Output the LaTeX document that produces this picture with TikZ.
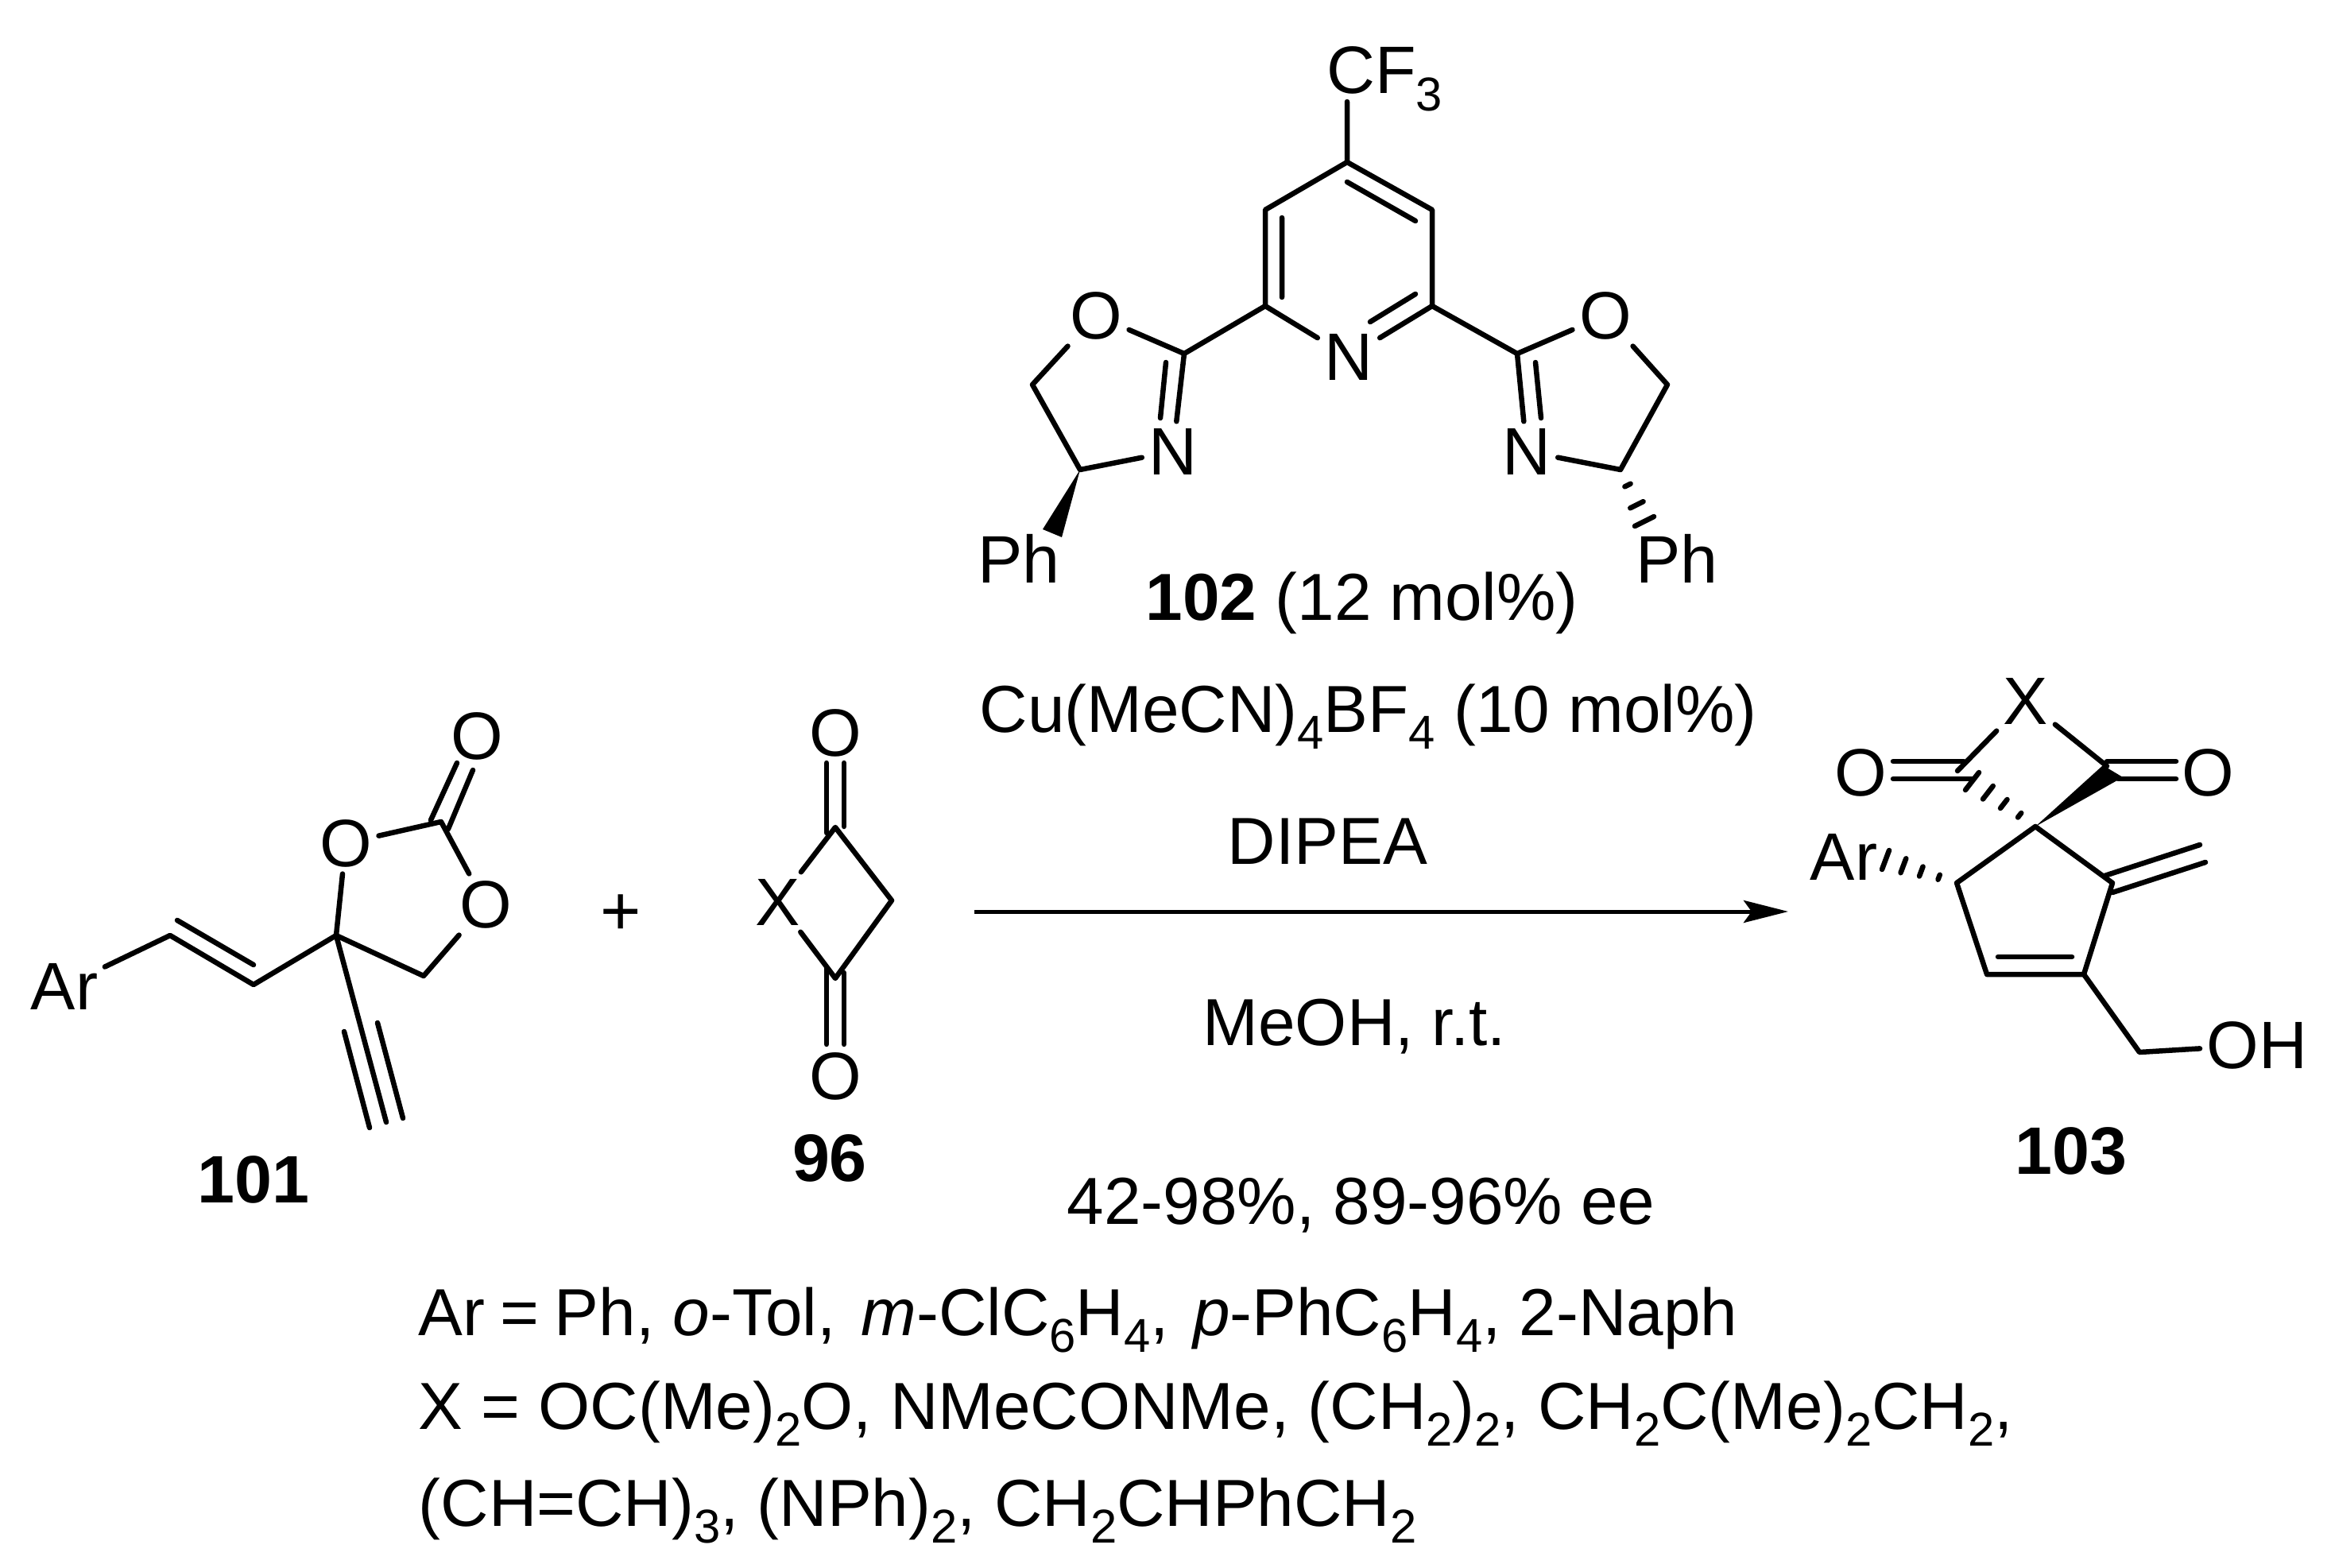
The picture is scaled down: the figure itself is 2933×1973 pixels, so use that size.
\documentclass[tikz,border=0pt]{standalone}
\usepackage{fontspec}
\setmainfont{Liberation Sans}
\usetikzlibrary{arrows.meta,calc}
\newcommand{\sbs}[1]{\raisebox{-0.26em}{\fontsize{17}{17}\selectfont #1}}
\newcommand{\hashbond}[3]{\foreach \t/\n in {#1}{\draw[bond] ($(#2)!\t!(#3a)$) -- ($(#2)!\t!(#3b)$);}}
\tikzset{
  bond/.style={line width=0.065cm,line cap=round,line join=round,black},
  atom/.style={font=\fontsize{24}{30}\selectfont,inner sep=0.08cm,text=black},
  lbl/.style={font=\fontsize{23.8}{30}\selectfont,inner sep=0pt,anchor=base west,text=black},
  cmpd/.style={font=\fontsize{24}{30}\selectfont\bfseries,inner sep=0pt,text=black},
}
\begin{document}
\begin{tikzpicture}[x=0.01cm,y=-0.01cm]
\useasboundingbox[fill=white] (0,0) rectangle (2933,1973);
% --- catalyst 102
\node[atom] (cf) at (1742,99) {CF\sbs{3}};
\coordinate (cfb) at (1695,128);
\coordinate (p4) at (1695,204);
\coordinate (p3) at (1592,264);
\coordinate (p2) at (1592,385);
\coordinate (p6) at (1802,385);
\coordinate (p5) at (1802,264);
\node[atom] (pN) at (1697,449) {N};
\draw[bond] (cfb) -- (p4) -- (p3) -- (p2) -- (pN) -- (p6) -- (p5) -- (p4);
\coordinate (i1a) at (1613,274); \coordinate (i1b) at (1613,374);
\coordinate (i2a) at (1695,229); \coordinate (i2b) at (1781,278);
\coordinate (i3a) at (1724,405); \coordinate (i3b) at (1781,370);
\draw[bond] (i1a) -- (i1b) (i2a) -- (i2b) (i3a) -- (i3b);
% left oxazoline
\coordinate (l2) at (1490,445);
\node[atom] (lO) at (1379,397) {O};
\node[atom] (lN) at (1476,568) {N};
\coordinate (l4) at (1359,591);
\coordinate (l5) at (1299,484);
\draw[bond] (p2) -- (l2) -- (lO) -- (l5) -- (l4) -- (lN) -- (l2);
\coordinate (ld1) at (1467,456); \coordinate (ld2) at (1460,526);
\draw[bond] (ld1) -- (ld2);
\coordinate (lw1) at (1312,666); \coordinate (lw2) at (1336,676);
\fill (l4) -- (lw1) -- (lw2) -- cycle;
\node[atom] (lPh) at (1282,703) {Ph};
% right oxazoline
\coordinate (r2) at (1909,445);
\node[atom] (rO) at (2020,397) {O};
\node[atom] (rN) at (1921,568) {N};
\coordinate (r4) at (2039,591);
\coordinate (r5) at (2098,484);
\draw[bond] (p6) -- (r2) -- (rO) -- (r5) -- (r4) -- (rN) -- (r2);
\coordinate (rd1) at (1932,456); \coordinate (rd2) at (1939,526);
\draw[bond] (rd1) -- (rd2);
\coordinate (rha) at (2057,662); \coordinate (rhb) at (2081,650);
\hashbond{0.3/a,0.68/b,1/c}{r4}{rh}
\node[atom] (rPh) at (2110,703) {Ph};
% --- 101
\node[atom] (aAr) at (81,1241) {Ar};
\coordinate (a1) at (214,1177);
\coordinate (a2) at (319,1239);
\coordinate (a3) at (423,1177);
\node[atom] (aO1) at (435,1061) {O};
\coordinate (a4) at (555,1034);
\node[atom] (aO2) at (600,926) {O};
\node[atom] (aO3) at (611,1138) {O};
\coordinate (a5) at (533,1228);
\draw[bond] (aAr) -- (a1) -- (a2) -- (a3) -- (aO1) -- (a4) -- (aO3) -- (a5) -- (a3);
\coordinate (ad1) at (223,1158); \coordinate (ad2) at (319,1214);
\draw[bond] (ad1) -- (ad2);
\coordinate (ac1) at (542,1032); \coordinate (ac2) at (575,960);
\coordinate (ac3) at (564,1043); \coordinate (ac4) at (595,969);
\draw[bond] (ac1) -- (ac2) (ac3) -- (ac4);
\coordinate (at1) at (486,1412);
\coordinate (at2) at (433,1298); \coordinate (at3) at (465,1419);
\coordinate (at4) at (475,1287); \coordinate (at5) at (507,1407);
\draw[bond] (a3) -- (at1) (at2) -- (at3) (at4) -- (at5);
\node[cmpd] (c101) at (319,1484) {101};
\node[font=\fontsize{25}{30}\selectfont,inner sep=0pt] (plus) at (781,1151) {+};
% --- 96
\node[atom] (bX) at (979,1135) {X};
\coordinate (b1) at (1051,1041);
\coordinate (b2) at (1122,1133);
\coordinate (b3) at (1051,1231);
\draw[bond] (bX) -- (b1) -- (b2) -- (b3) -- (bX);
\node[atom] (bO1) at (1051,922) {O};
\node[atom] (bO2) at (1051,1354) {O};
\coordinate (bd1) at (1040,960); \coordinate (bd2) at (1040,1048);
\coordinate (bd3) at (1062,960); \coordinate (bd4) at (1062,1040);
\coordinate (bd5) at (1040,1218); \coordinate (bd6) at (1040,1314);
\coordinate (bd7) at (1062,1224); \coordinate (bd8) at (1062,1314);
\draw[bond] (bd1) -- (bd2) (bd3) -- (bd4) (bd5) -- (bd6) (bd7) -- (bd8);
\node[cmpd] (c96) at (1044,1457) {96};
% --- arrow
\coordinate (arrS) at (1226,1147);
\coordinate (arrE) at (2250,1147);
\draw[line width=0.05cm,-{Stealth[length=0.56cm,width=0.28cm,inset=0.1cm]}] (arrS) -- (arrE);
% --- 103
\node[atom] (dX) at (2549,882) {X};
\node[atom] (dOl) at (2341,972) {O};
\node[atom] (dOr) at (2778,972) {O};
\node[atom] (dAr) at (2320,1078) {Ar};
\node[atom] (dOH) at (2840,1315) {OH};
\coordinate (d0) at (2561,1040);
\coordinate (d1) at (2658,1111);
\coordinate (d2) at (2622,1226);
\coordinate (d3) at (2500,1226);
\coordinate (d4) at (2462,1111);
\coordinate (d5) at (2692,1324);
\coordinate (dxl) at (2463,970);
\coordinate (dxr) at (2651,964);
\draw[bond] (d0) -- (d1) -- (d2) -- (d3) -- (d4) -- cycle;
\draw[bond] (d2) -- (d5) -- (dOH);
\draw[bond] (dxl) -- (dX) -- (dxr);
\coordinate (de1) at (2514,1204); \coordinate (de2) at (2607,1204);
\draw[bond] (de1) -- (de2);
\coordinate (de3) at (2648,1102); \coordinate (de4) at (2768,1063);
\coordinate (de5) at (2658,1123); \coordinate (de6) at (2775,1085);
\draw[bond] (de3) -- (de4) (de5) -- (de6);
\coordinate (dc1) at (2382,958); \coordinate (dc2) at (2471,958);
\coordinate (dc3) at (2382,980); \coordinate (dc4) at (2482,980);
\coordinate (dc5) at (2651,958); \coordinate (dc6) at (2738,958);
\coordinate (dc7) at (2665,980); \coordinate (dc8) at (2738,980);
\draw[bond] (dc1) -- (dc2) (dc3) -- (dc4) (dc5) -- (dc6) (dc7) -- (dc8);
\coordinate (dw1) at (2646,963); \coordinate (dw2) at (2671,978);
\fill (d0) -- (dw1) -- (dw2) -- cycle;
\coordinate (dha) at (2473,994); \coordinate (dhb) at (2490,972);
\hashbond{0.25/a,0.5/b,0.75/c,1/d}{d0}{dh}
\coordinate (dra) at (2368,1094); \coordinate (drb) at (2377,1070);
\hashbond{0.25/a,0.5/b,0.75/c,1/d}{d4}{dr}
\node[cmpd] (c103) at (2606,1448) {103};
% --- texts
\node[lbl] (t102) at (1441,780) {\textbf{102} (12 mol\%)};
\node[lbl] (tCu) at (1232,921) {Cu(MeCN)\sbs{4}BF\sbs{4} (10 mol\%)};
\node[lbl] (tD) at (1544,1087) {DIPEA};
\node[lbl] (tM) at (1513,1315) {MeOH, r.t.};
\node[lbl] (tY) at (1342,1540) {42-98\%, 89-96\% ee};
\node[lbl] (tAr) at (526,1680) {Ar\hspace{5.5pt}=\hspace{5.5pt}Ph, \textit{o}-Tol,\hspace{2.5pt} \textit{m}-ClC\sbs{6}H\sbs{4},\hspace{2pt} \textit{p}-PhC\sbs{6}H\sbs{4}, 2-Naph};
\node[lbl] (tX) at (526,1798) {X = OC(Me)\sbs{2}O, NMeCONMe, (CH\sbs{2})\sbs{2}, CH\sbs{2}C(Me)\sbs{2}CH\sbs{2},};
\node[lbl] (tC) at (526,1920) {(CH=CH)\sbs{3}, (NPh)\sbs{2}, CH\sbs{2}CHPhCH\sbs{2}};
\end{tikzpicture}
\end{document}
